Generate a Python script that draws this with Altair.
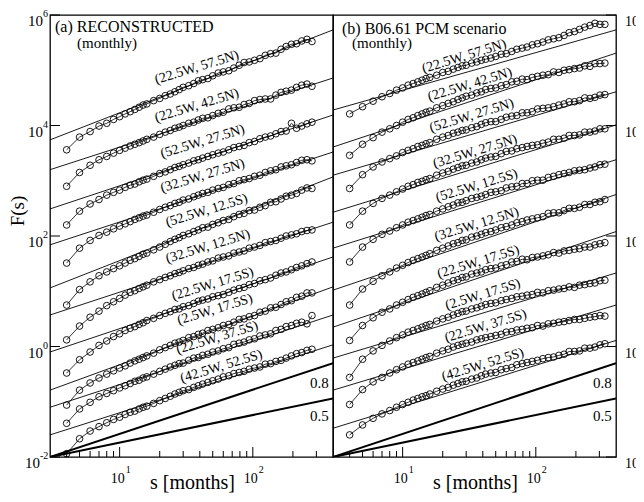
import altair as alt
import pandas as pd

# ---------------- data ----------------
S_A = [4, 5, 6, 7, 8, 9, 10, 11, 12, 13, 14, 15, 16, 18, 20, 22, 24, 26, 28, 30, 33, 36, 39, 42, 46,
       50, 55, 60, 66, 72, 79, 86, 94, 103, 113, 124, 136, 149, 163, 178, 195, 213, 233, 255, 278]
S_B = S_A + [303, 330]

NAMES = ["(22.5W, 57.5N)", "(22.5W, 42.5N)", "(52.5W, 27.5N)", "(32.5W, 27.5N)", "(52.5W, 12.5S)",
         "(32.5W, 12.5N)", "(22.5W, 17.5S)", "(2.5W, 17.5S)", "(22.5W, 37.5S)", "(42.5W, 52.5S)"]

# log10 F(s), panel (a)
A1 = [3.56,3.79,3.89,3.99,4.04,4.11,4.16,4.21,4.25,4.29,4.33,4.37,4.39,4.45,4.49,4.54,4.57,4.61,4.65,4.69,4.72,4.76,4.81,4.83,4.85,4.90,4.95,4.97,4.99,5.04,5.09,5.14,5.15,5.18,5.21,5.27,5.30,5.31,5.38,5.43,5.47,5.48,5.53,5.56,5.52]
A2 = [2.90,3.15,3.28,3.38,3.44,3.50,3.55,3.59,3.63,3.66,3.69,3.72,3.75,3.79,3.84,3.88,3.91,3.95,3.97,4.00,4.04,4.06,4.10,4.13,4.14,4.18,4.22,4.24,4.30,4.32,4.33,4.38,4.40,4.45,4.47,4.48,4.48,4.55,4.60,4.62,4.64,4.69,4.73,4.75,4.71]
A3 = [2.20,2.45,2.58,2.66,2.74,2.79,2.83,2.88,2.92,2.94,2.98,3.01,3.03,3.08,3.13,3.16,3.20,3.24,3.26,3.29,3.32,3.36,3.38,3.41,3.44,3.47,3.50,3.52,3.56,3.60,3.62,3.64,3.69,3.71,3.76,3.79,3.81,3.85,3.89,3.90,4.04,3.95,3.99,4.03,4.06]
A4 = [1.51,1.78,1.92,2.01,2.07,2.13,2.18,2.22,2.26,2.30,2.33,2.36,2.38,2.43,2.48,2.52,2.55,2.59,2.61,2.65,2.67,2.71,2.74,2.77,2.79,2.83,2.86,2.88,2.93,2.95,3.00,3.02,3.04,3.08,3.10,3.15,3.18,3.20,3.25,3.27,3.29,3.33,3.37,3.38,3.36]
A5 = [0.75,1.03,1.17,1.28,1.35,1.41,1.46,1.51,1.56,1.59,1.63,1.67,1.69,1.75,1.80,1.85,1.90,1.94,1.97,2.01,2.04,2.08,2.11,2.15,2.16,2.21,2.24,2.28,2.30,2.35,2.39,2.41,2.46,2.47,2.52,2.55,2.61,2.62,2.67,2.72,2.74,2.77,2.83,2.87,2.86]
A6 = [0.12,0.37,0.53,0.64,0.74,0.81,0.87,0.93,0.98,1.01,1.05,1.08,1.11,1.17,1.21,1.25,1.28,1.32,1.34,1.37,1.41,1.43,1.47,1.49,1.53,1.55,1.60,1.62,1.64,1.69,1.71,1.73,1.78,1.80,1.83,1.88,1.90,1.92,1.96,2.00,2.02,2.04,2.08,2.10,2.11]
A7 = [-0.48,-0.24,-0.10,0.02,0.10,0.18,0.23,0.29,0.33,0.36,0.40,0.43,0.47,0.51,0.56,0.60,0.63,0.67,0.68,0.72,0.74,0.78,0.82,0.84,0.86,0.90,0.92,0.94,0.98,1.02,1.05,1.07,1.12,1.14,1.19,1.21,1.24,1.29,1.33,1.35,1.39,1.43,1.46,1.50,1.53]
A8 = [-1.06,-0.79,-0.66,-0.57,-0.50,-0.44,-0.39,-0.35,-0.30,-0.26,-0.23,-0.20,-0.17,-0.12,-0.06,-0.02,0.02,0.06,0.08,0.11,0.16,0.18,0.22,0.24,0.29,0.31,0.34,0.38,0.40,0.44,0.49,0.50,0.54,0.56,0.62,0.64,0.70,0.71,0.76,0.81,0.83,0.89,0.91,0.97,0.97]
A9 = [-1.39,-1.13,-1.01,-0.91,-0.85,-0.80,-0.75,-0.71,-0.67,-0.63,-0.61,-0.57,-0.55,-0.50,-0.45,-0.41,-0.37,-0.34,-0.31,-0.30,-0.25,-0.21,-0.20,-0.16,-0.14,-0.10,-0.08,-0.04,-0.02,0.04,0.06,0.08,0.12,0.14,0.19,0.21,0.23,0.29,0.31,0.36,0.38,0.42,0.44,0.41,0.56]
A10 = [-1.94,-1.67,-1.53,-1.45,-1.38,-1.32,-1.28,-1.23,-1.19,-1.17,-1.13,-1.10,-1.08,-1.03,-0.98,-0.94,-0.90,-0.86,-0.83,-0.80,-0.78,-0.74,-0.71,-0.68,-0.65,-0.62,-0.59,-0.55,-0.53,-0.49,-0.47,-0.45,-0.41,-0.39,-0.37,-0.32,-0.31,-0.27,-0.25,-0.21,-0.17,-0.13,-0.11,-0.07,-0.05]
LOGF_A = [A1, A2, A3, A4, A5, A6, A7, A8, A9, A10]

# log10 F(s), panel (b)
B1 = [4.21,4.34,4.44,4.52,4.58,4.64,4.68,4.73,4.76,4.79,4.82,4.85,4.87,4.91,4.96,4.98,5.02,5.05,5.08,5.09,5.13,5.15,5.18,5.20,5.22,5.25,5.29,5.30,5.34,5.38,5.40,5.42,5.46,5.48,5.51,5.55,5.57,5.59,5.63,5.68,5.70,5.74,5.78,5.81,5.85,5.83,5.83]
B2 = [3.46,3.66,3.78,3.88,3.94,4.00,4.06,4.11,4.14,4.18,4.21,4.24,4.26,4.32,4.36,4.40,4.43,4.47,4.50,4.53,4.55,4.59,4.61,4.65,4.67,4.68,4.72,4.74,4.79,4.80,4.84,4.83,4.87,4.89,4.91,4.92,4.97,4.96,5.00,5.01,5.03,5.04,5.08,5.07,5.12,5.12,5.13]
B3 = [2.86,3.11,3.25,3.34,3.40,3.45,3.51,3.55,3.58,3.62,3.64,3.67,3.69,3.75,3.79,3.82,3.86,3.88,3.91,3.92,3.96,3.98,4.02,4.05,4.07,4.07,4.11,4.15,4.17,4.18,4.23,4.23,4.25,4.30,4.31,4.32,4.34,4.37,4.39,4.43,4.43,4.45,4.50,4.49,4.51,4.55,4.56]
B4 = [2.20,2.45,2.59,2.68,2.74,2.80,2.85,2.90,2.93,2.97,2.99,3.02,3.04,3.10,3.14,3.17,3.21,3.24,3.27,3.28,3.32,3.34,3.38,3.41,3.43,3.44,3.49,3.53,3.54,3.58,3.60,3.62,3.64,3.65,3.68,3.70,3.75,3.75,3.77,3.82,3.82,3.83,3.88,3.88,3.90,3.94,3.94]
B5 = [1.53,1.80,1.94,2.03,2.09,2.15,2.20,2.25,2.28,2.31,2.34,2.37,2.39,2.45,2.49,2.53,2.56,2.60,2.61,2.64,2.68,2.70,2.72,2.75,2.79,2.80,2.82,2.87,2.89,2.90,2.95,2.95,3.00,3.01,3.01,3.06,3.08,3.11,3.13,3.15,3.18,3.19,3.20,3.23,3.25,3.29,3.30]
B6 = [0.75,1.04,1.18,1.28,1.35,1.42,1.47,1.52,1.56,1.59,1.62,1.65,1.68,1.74,1.78,1.82,1.86,1.88,1.92,1.93,1.98,2.00,2.03,2.06,2.08,2.11,2.15,2.17,2.20,2.24,2.26,2.29,2.31,2.33,2.35,2.41,2.42,2.42,2.46,2.50,2.50,2.52,2.57,2.57,2.61,2.62,2.66]
B7 = [0.11,0.38,0.52,0.62,0.68,0.75,0.80,0.85,0.89,0.92,0.95,0.98,1.01,1.07,1.11,1.15,1.19,1.21,1.25,1.26,1.31,1.33,1.35,1.39,1.41,1.42,1.46,1.48,1.53,1.54,1.58,1.57,1.61,1.62,1.64,1.66,1.70,1.69,1.73,1.74,1.76,1.77,1.80,1.80,1.84,1.86,1.88]
B8 = [-0.56,-0.23,-0.08,0.02,0.10,0.16,0.21,0.26,0.29,0.32,0.35,0.38,0.40,0.46,0.50,0.53,0.57,0.60,0.63,0.64,0.68,0.70,0.73,0.76,0.78,0.79,0.83,0.85,0.87,0.90,0.91,0.93,0.94,0.98,0.97,1.01,1.02,1.04,1.05,1.08,1.07,1.11,1.12,1.14,1.15,1.19,1.20]
B9 = [-1.05,-0.78,-0.64,-0.56,-0.48,-0.42,-0.37,-0.32,-0.29,-0.26,-0.23,-0.20,-0.18,-0.12,-0.08,-0.05,-0.01,0.02,0.04,0.06,0.08,0.12,0.14,0.16,0.18,0.20,0.22,0.26,0.27,0.30,0.31,0.33,0.34,0.38,0.37,0.41,0.42,0.44,0.45,0.47,0.49,0.49,0.51,0.53,0.54,0.56,0.55]
B10 = [-1.60,-1.42,-1.30,-1.22,-1.16,-1.10,-1.05,-1.01,-0.97,-0.94,-0.91,-0.89,-0.86,-0.81,-0.77,-0.74,-0.70,-0.67,-0.64,-0.63,-0.59,-0.57,-0.53,-0.50,-0.48,-0.47,-0.42,-0.40,-0.38,-0.33,-0.31,-0.29,-0.27,-0.25,-0.22,-0.20,-0.19,-0.16,-0.14,-0.09,-0.09,-0.08,-0.03,-0.03,-0.01,0.03,0.05]
LOGF_B = [B1, B2, B3, B4, B5, B6, B7, B8, B9, B10]

# straight fits: log10 F at s=3 and at s=400
FIT_A_S3 = [3.74, 3.20, 2.49, 1.84, 1.06, 0.57, -0.10, -0.79, -1.10, -1.60]
FIT_A_S400 = [5.73, 4.86, 4.19, 3.52, 3.07, 2.25, 1.62, 1.08, 0.57, 0.03]
FIT_B_S3 = [4.28, 3.61, 3.10, 2.43, 1.78, 1.02, 0.35, -0.21, -0.79, -1.48]
FIT_B_S400 = [5.73, 5.31, 4.61, 4.01, 3.38, 2.75, 2.08, 1.33, 0.75, 0.11]

# label anchors (s, log10 F)
LAB_A_S = [38, 38, 42, 42, 45, 46, 50, 52, 54, 58]
LAB_A_LOGF = [5.05, 4.36, 3.71, 3.09, 2.46, 1.81, 1.13, 0.67, 0.16, -0.36]
LAB_B_S = [29, 32, 33, 35, 36, 36, 37, 40, 42, 40]
LAB_B_LOGF = [5.25, 4.74, 4.18, 3.53, 2.91, 2.21, 1.53, 0.94, 0.37, -0.33]

# reference power laws from (3, 1e-2)
SLOPES = ["0.8", "0.5"]
SLOPE_END_LOGF = [-0.30, -0.94]
SLOPE_LAB_S = [316, 316]
SLOPE_LAB_LOGF = [-0.66, -1.26]

XMAJOR = [10, 100]
XMAJOR_EXP = ["1", "2"]
XMINOR = [4, 5, 6, 7, 8, 9, 20, 30, 40, 50, 60, 70, 80, 90, 200, 300]
YMAJOR = [0.01, 1, 100, 1e4, 1e6]
YMAJOR_EXP = ["-2", "0", "2", "4", "6"]

# ---------------- chart ----------------
FONT = "Liberation Serif, Times New Roman, serif"
W, H = 283, 442
XS = alt.Scale(type="log", domain=[3, 400], nice=False)
YS = alt.Scale(type="log", domain=[0.01, 1e6], nice=False)


def X(f):
    return alt.X(f, type="quantitative", scale=XS, axis=None)


def Y(f):
    return alt.Y(f, type="quantitative", scale=YS, axis=None)


def panel(svals, logf, fs3, fs400, lab_s, lab_f, title, side):
    rows = []
    for name, vals in zip(NAMES, logf):
        for s, v in zip(svals, vals):
            rows.append({"series": name, "s": s, "F": 10 ** v})
    pts = pd.DataFrame(rows)
    fit = pd.DataFrame(
        [{"series": n, "s": 3, "F": 10 ** a} for n, a in zip(NAMES, fs3)]
        + [{"series": n, "s": 400, "F": 10 ** b} for n, b in zip(NAMES, fs400)]
    )
    labs = pd.DataFrame({"name": NAMES, "s": lab_s, "F": [10 ** v for v in lab_f]})
    slope = pd.DataFrame(
        [{"k": k, "s": 3, "F": 0.01} for k in SLOPES]
        + [{"k": k, "s": 400, "F": 10 ** e} for k, e in zip(SLOPES, SLOPE_END_LOGF)]
    )
    slab = pd.DataFrame({"k": SLOPES, "s": SLOPE_LAB_S, "F": [10 ** v for v in SLOPE_LAB_LOGF]})

    layers = []
    layers.append(alt.Chart(fit).mark_line(color="black", strokeWidth=0.9, clip=True)
                  .encode(x=X("s"), y=Y("F"), detail="series:N"))
    layers.append(alt.Chart(pts).mark_line(color="black", strokeWidth=0.8)
                  .encode(x=X("s"), y=Y("F"), detail="series:N"))
    layers.append(alt.Chart(pts).mark_point(shape="circle", filled=False, size=44, strokeWidth=0.9,
                                            color="black", opacity=1)
                  .encode(x=X("s"), y=Y("F")))
    layers.append(alt.Chart(slope).mark_line(color="black", strokeWidth=2, clip=True)
                  .encode(x=X("s"), y=Y("F"), detail="k:N"))
    layers.append(alt.Chart(slab).mark_text(font=FONT, fontSize=15, color="black")
                  .encode(x=X("s"), y=Y("F"), text="k:N"))
    layers.append(alt.Chart(labs).mark_text(font=FONT, fontSize=14, angle=343, color="black")
                  .encode(x=X("s"), y=Y("F"), text="name:N"))

    # x ticks (inward)
    xmaj = pd.DataFrame({"v": XMAJOR, "b": ["10"] * len(XMAJOR), "e": XMAJOR_EXP})
    xmin = pd.DataFrame({"v": XMINOR})
    layers.append(alt.Chart(xmaj).mark_rule(color="black", strokeWidth=1)
                  .encode(x=X("v"), y=alt.value(H), y2=alt.value(H - 10)))
    layers.append(alt.Chart(xmin).mark_rule(color="black", strokeWidth=1)
                  .encode(x=X("v"), y=alt.value(H), y2=alt.value(H - 6)))
    layers.append(alt.Chart(xmaj).mark_text(font=FONT, fontSize=14, dx=-2, baseline="alphabetic")
                  .encode(x=X("v"), y=alt.value(H + 26), text="b:N"))
    layers.append(alt.Chart(xmaj).mark_text(font=FONT, fontSize=10, dx=6, align="left",
                                            baseline="alphabetic")
                  .encode(x=X("v"), y=alt.value(H + 16), text="e:N"))

    # y ticks (inward) and labels
    ymaj = pd.DataFrame({"v": YMAJOR, "b": ["10"] * len(YMAJOR), "e": YMAJOR_EXP})
    if side == "left":
        layers.append(alt.Chart(ymaj).mark_rule(color="black", strokeWidth=1)
                      .encode(y=Y("v"), x=alt.value(0), x2=alt.value(10)))
        for wide, xoff in ((False, -7), (True, -10)):
            sub = ymaj[(ymaj["e"].str.len() > 1) == wide]
            layers.append(alt.Chart(sub).mark_text(font=FONT, fontSize=15, align="right",
                                                   baseline="alphabetic", dy=11)
                          .encode(y=Y("v"), x=alt.value(xoff), text="b:N"))
            layers.append(alt.Chart(sub).mark_text(font=FONT, fontSize=10, align="left",
                                                   baseline="alphabetic", dy=2)
                          .encode(y=Y("v"), x=alt.value(xoff), text="e:N"))
        layers.append(alt.Chart(pd.DataFrame({"t": ["F(s)"]}))
                      .mark_text(font=FONT, fontSize=19, angle=270, baseline="middle")
                      .encode(x=alt.value(-32), y=alt.value(196), text="t:N"))
    else:
        layers.append(alt.Chart(ymaj).mark_rule(color="black", strokeWidth=1)
                      .encode(y=Y("v"), x=alt.value(W - 10), x2=alt.value(W)))
        layers.append(alt.Chart(ymaj).mark_text(font=FONT, fontSize=14, align="left",
                                                baseline="alphabetic", dy=11)
                      .encode(y=Y("v"), x=alt.value(W + 9), text="b:N"))
        layers.append(alt.Chart(ymaj).mark_text(font=FONT, fontSize=10, align="left",
                                                baseline="alphabetic", dy=2)
                      .encode(y=Y("v"), x=alt.value(W + 23), text="e:N"))

    # x title
    layers.append(alt.Chart(pd.DataFrame({"t": ["s [months]"]}))
                  .mark_text(font=FONT, fontSize=20, baseline="alphabetic")
                  .encode(x=alt.value(W / 2 + 1), y=alt.value(H + 32), text="t:N"))
    # panel titles
    t1, t2, x1, x2, y1, y2 = title
    layers.append(alt.Chart(pd.DataFrame({"t": [t1]}))
                  .mark_text(font=FONT, fontSize=16, align="left", baseline="alphabetic")
                  .encode(x=alt.value(x1), y=alt.value(y1), text="t:N"))
    layers.append(alt.Chart(pd.DataFrame({"t": [t2]}))
                  .mark_text(font=FONT, fontSize=15, align="left", baseline="alphabetic")
                  .encode(x=alt.value(x2), y=alt.value(y2), text="t:N"))

    return alt.layer(*layers).properties(width=W, height=H)


left = panel(S_A, LOGF_A, FIT_A_S3, FIT_A_S400, LAB_A_S, LAB_A_LOGF,
             ("(a) RECONSTRUCTED", "(monthly)", 5, 27, 17, 33), "left")
right = panel(S_B, LOGF_B, FIT_B_S3, FIT_B_S400, LAB_B_S, LAB_B_LOGF,
              ("(b) B06.61 PCM scenario", "(monthly)", 9, 19, 19, 33), "right")

chart = (
    alt.hconcat(left, right, spacing=0, bounds="flush")
    .properties(
        autosize=alt.AutoSizeParams(type="none"),
        padding={"left": 42, "top": 7, "right": 586, "bottom": 477},
    )
    .configure_view(stroke="black", strokeWidth=1.3)
)

chart.save("out.html", embed_options={"renderer": "svg", "actions": False})
